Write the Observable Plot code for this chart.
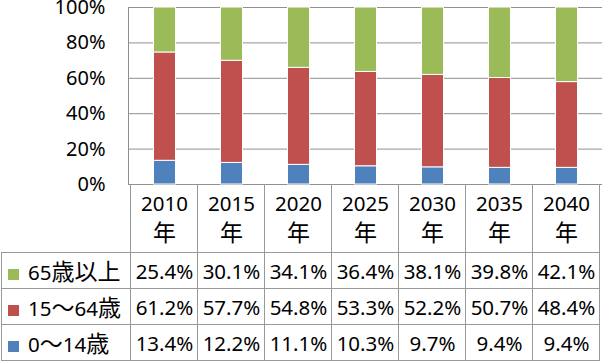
<!DOCTYPE html>
<html>
<head>
<meta charset="utf-8">
<script src="https://cdn.jsdelivr.net/npm/d3@7"></script>
<script src="https://cdn.jsdelivr.net/npm/@observablehq/plot@0.6"></script>
<style>
  html, body { margin: 0; padding: 0; background: #fff; }
  #wrap { position: relative; width: 610px; height: 363px; overflow: hidden;
    font-family: "Noto Sans", "Noto Sans CJK JP", sans-serif; color: #000; }
  #chart { position: absolute; left: 0; top: 0; }
  .line { position: absolute; background: #999; }
  .cell { position: absolute; text-align: center; font-size: 20.5px; white-space: nowrap; }
  .cjk { font-size: 23px; }
  .key { display: inline-block; width: 11px; height: 11px; margin-right: 9px; vertical-align: 0px; }
</style>
</head>
<body>
<div id="wrap"><div id="chart"></div></div>
<script>
// ---- data ----
const years = ["2010", "2015", "2020", "2025", "2030", "2035", "2040"];
const yearSuffix = "年";
const groups = ["0～14歳", "15～64歳", "65歳以上"];
const groupColors = ["#4F81BD", "#C0504D", "#9BBB59"];
const age0to14 = [13.4, 12.2, 11.1, 10.3, 9.7, 9.4, 9.4];
const age15to64 = [61.2, 57.7, 54.8, 53.3, 52.2, 50.7, 48.4];
const age65plus = [25.4, 30.1, 34.1, 36.4, 38.1, 39.8, 42.1];
const yTicks = [0, 0.2, 0.4, 0.6, 0.8, 1.0];

const seriesValues = [age0to14, age15to64, age65plus];
const rows = [];
groups.forEach((g, gi) => years.forEach((y, yi) => rows.push({year: y, group: g, value: seriesValues[gi][yi]})));

// ---- chart ----
const W = 610, H = 186;
const chart = Plot.plot({
  width: W,
  height: H,
  marginTop: 7,
  marginBottom: 2,
  marginLeft: 128,
  marginRight: 8,
  style: {fontFamily: "'Noto Sans', 'Noto Sans CJK JP', sans-serif", fontSize: "20px", color: "#000", background: "transparent", overflow: "visible"},
  x: {domain: years, padding: 0, axis: null},
  y: {domain: [0, 1], ticks: yTicks, tickSize: 0, tickPadding: 23, tickFormat: d => Math.round(d * 100) + "%", label: null},
  color: {domain: groups, range: groupColors},
  marks: [
    Plot.ruleY(yTicks, {stroke: "#8f8f8f", strokeWidth: 1}),
    Plot.frame({anchor: "left", stroke: "#8f8f8f"}),
    Plot.barY(rows, Plot.stackY({offset: "normalize"}, {x: "year", y: "value", fill: "group", insetLeft: 22.5, insetRight: 22.5, stroke: "white", strokeWidth: 1}))
  ]
});
document.getElementById("chart").appendChild(chart);

// ---- data table below the chart, aligned with the x scale ----
const wrap = document.getElementById("wrap");
const xs = chart.scale("x");
const bw = xs.bandwidth;
const tableTop = H - 2;          // the 0% line
const headerH = 68, rowH = 36;
const right = xs.apply(years[years.length - 1]) + bw;
const cjk = s => s.replace(/([^\x00-\x7F]+)/g, '<span class="cjk">$1</span>');
function line(l, t, w, h) {
  const d = document.createElement("div");
  d.className = "line";
  Object.assign(d.style, {left: l + "px", top: t + "px", width: w + "px", height: h + "px"});
  wrap.appendChild(d);
}
function cell(l, t, w, h, html, extra) {
  const d = document.createElement("div");
  d.className = "cell";
  Object.assign(d.style, {left: l + "px", top: t + "px", width: w + "px", height: h + "px"}, extra || {});
  d.innerHTML = html;
  wrap.appendChild(d);
  return d;
}
const rowsTop = tableTop + headerH;
const tableBottom = rowsTop + rowH * 3;
// horizontal lines
for (let r = 0; r <= 3; r++) line(1, Math.round(rowsTop + r * rowH), Math.round(right) - 1, 1);
// vertical lines
line(1, rowsTop, 1, rowH * 3 + 1);
years.forEach(y => line(Math.round(xs.apply(y)) - 1, tableTop, 1, tableBottom - tableTop + 1));
line(Math.round(right) - 1, tableTop, 1, tableBottom - tableTop + 1);
// header
years.forEach(y => cell(xs.apply(y), tableTop + 5, bw, headerH - 5, y + "<br>" + cjk(yearSuffix), {lineHeight: "29px"}));
// rows: top row is the top segment of the stack
const order = [2, 1, 0];
order.forEach((gi, r) => {
  const top = rowsTop + r * rowH + 1;
  cell(1, top, 127, rowH, `<span class="key" style="background:${groupColors[gi]}"></span>${cjk(groups[gi])}`,
    {lineHeight: rowH + "px", textAlign: "left", paddingLeft: "7px", boxSizing: "border-box"});
  years.forEach((y, yi) => cell(xs.apply(y), top, bw, rowH, seriesValues[gi][yi].toFixed(1) + "%", {lineHeight: rowH + "px"}));
});
</script>
</body>
</html>
